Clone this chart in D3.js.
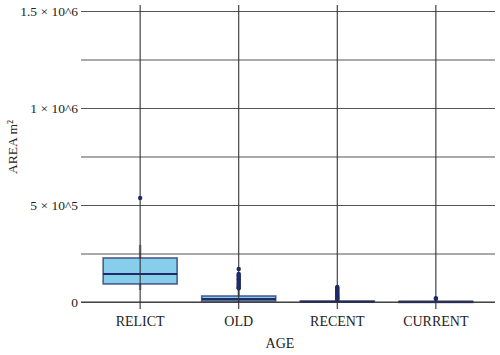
<!DOCTYPE html>
<html>
<head>
<meta charset="utf-8">
<script src="https://cdn.jsdelivr.net/npm/d3@7"></script>
<style>
  body { margin: 0; background: #fff; }
  text { font-family: "Liberation Serif", "Times New Roman", serif; fill: #222; }
</style>
</head>
<body>
<script>
// box plot summary per age class (area in m^2)
var categories = ["RELICT", "OLD", "RECENT", "CURRENT"];
var whiskerLow  = [62000, 0, 0, 0];
var q1          = [93000, 5000, 500, 300];
var median      = [144000, 15000, 1500, 1000];
var q3          = [227000, 31000, 5000, 3000];
var whiskerHigh = [294000, 68000, 10000, 6000];
var outliers = [
    [536000],
    [170000, 145000, 138000, 131000, 124000, 117000, 110000, 103000, 96000, 89000, 82000, 76000, 71000],
    [78000, 73000, 68000, 63000, 58000, 53000, 48000, 43000, 38000, 33000, 28000, 24000, 20000, 16000, 12000],
    [20000, 16000]
];
var gridValues = [0, 250000, 500000, 750000, 1000000, 1250000, 1500000];
var tickLabels = {0: "0", 500000: "5 \u00d7 10^5", 1000000: "1 \u00d7 10^6", 1500000: "1.5 \u00d7 10^6"};

var width = 500, height = 355;
var margin = {left: 81, right: 495, top: 11, bottom: 302};

var svg = d3.select("body").append("svg").attr("width", width).attr("height", height);

var x = d3.scalePoint().domain(categories).range([margin.left, margin.right]).padding(0.6);
var y = d3.scaleLinear().domain([0, 1500000]).range([margin.bottom, margin.top]);

// horizontal grid + y labels
var yAxis = d3.axisLeft(y)
    .tickValues(gridValues)
    .tickSizeInner(-(margin.right - margin.left))
    .tickSizeOuter(0)
    .tickPadding(3)
    .tickFormat(function(d){ return tickLabels[d] || ""; });

var yg = svg.append("g").attr("transform", "translate(" + margin.left + ",0)").call(yAxis);
yg.select(".domain").remove();
yg.selectAll("line").attr("stroke", "#555").attr("stroke-width", 1.2);
yg.selectAll("text").style("font-family", "Liberation Serif, serif").style("font-size", "13.5px").attr("fill", "#222");

var idx = d3.range(categories.length);
var boxW = 74;

// whiskers
svg.append("g").selectAll("line").data(idx).enter().append("line")
    .attr("x1", function(i){ return x(categories[i]); })
    .attr("x2", function(i){ return x(categories[i]); })
    .attr("y1", function(i){ return y(whiskerLow[i]); })
    .attr("y2", function(i){ return y(whiskerHigh[i]); })
    .attr("stroke", "#27306e").attr("stroke-opacity", 0.55).attr("stroke-width", 2.5);

// boxes
svg.append("g").selectAll("rect").data(idx).enter().append("rect")
    .attr("x", function(i){ return x(categories[i]) - boxW / 2; })
    .attr("width", boxW)
    .attr("y", function(i){ return y(q3[i]); })
    .attr("height", function(i){ return Math.max(1, y(q1[i]) - y(q3[i])); })
    .attr("fill", "#87ceeb")
    .attr("stroke", "#27306e").attr("stroke-opacity", 0.75).attr("stroke-width", 1.6);

// medians
svg.append("g").selectAll("line").data(idx).enter().append("line")
    .attr("x1", function(i){ return x(categories[i]) - boxW / 2; })
    .attr("x2", function(i){ return x(categories[i]) + boxW / 2; })
    .attr("y1", function(i){ return y(median[i]); })
    .attr("y2", function(i){ return y(median[i]); })
    .attr("stroke", "#1f2a66").attr("stroke-width", 2);

// vertical grid lines (drawn over the boxes)
svg.append("g").selectAll("line").data(categories).enter().append("line")
    .attr("x1", function(d){ return x(d); })
    .attr("x2", function(d){ return x(d); })
    .attr("y1", 5).attr("y2", margin.bottom + 7)
    .attr("stroke", "#333").attr("stroke-width", 1.1);

// outliers
var pts = [];
idx.forEach(function(i){ outliers[i].forEach(function(v){ pts.push({c: categories[i], v: v}); }); });
svg.append("g").selectAll("circle").data(pts).enter().append("circle")
    .attr("cx", function(d){ return x(d.c); })
    .attr("cy", function(d){ return y(d.v); })
    .attr("r", 2.2)
    .attr("fill", "#1f2a66");

// bottom axis line
svg.append("line").attr("x1", margin.left).attr("x2", margin.right)
    .attr("y1", margin.bottom).attr("y2", margin.bottom)
    .attr("stroke", "#333").attr("stroke-width", 1.2);

// x labels
svg.append("g").selectAll("text").data(categories).enter().append("text")
    .attr("x", function(d){ return x(d); })
    .attr("y", 326)
    .attr("text-anchor", "middle")
    .style("font-size", "14px")
    .text(function(d){ return d; });

// axis titles
svg.append("text").attr("x", 280).attr("y", 348).attr("text-anchor", "middle")
    .style("font-size", "14px").text("AGE");

svg.append("text")
    .attr("transform", "translate(17,147) rotate(-90)")
    .attr("text-anchor", "middle")
    .style("font-size", "13.5px")
    .text("AREA m\u00b2");
</script>
</body>
</html>
